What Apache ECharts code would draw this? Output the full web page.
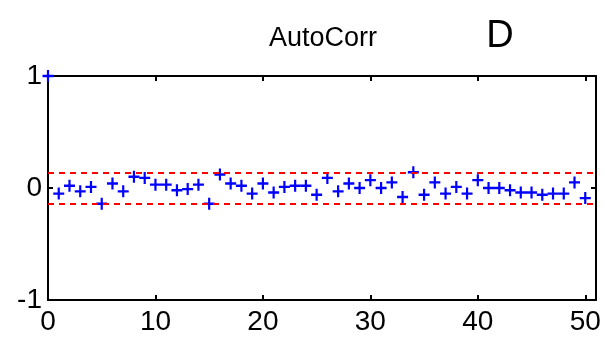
<!DOCTYPE html>
<html>
<head>
<meta charset="utf-8">
<script src="https://cdn.jsdelivr.net/npm/echarts@6/dist/echarts.min.js"></script>
<style>
  html, body { margin: 0; padding: 0; background: #fff; }
  #chart { width: 605px; height: 342px; }
</style>
</head>
<body>
<div id="chart"></div>
<script>
(function(){
  // lag index 0..50
  const lags = [];
  for (let i = 0; i <= 50; i++) lags.push(i);

  // autocorrelation at each lag
  const acf = [
    1.00, -0.05, 0.02, -0.03, 0.01, -0.14, 0.04, -0.03, 0.10, 0.09,
    0.03, 0.03, -0.02, -0.01, 0.03, -0.14, 0.12, 0.04, 0.02, -0.05,
    0.04, -0.04, 0.01, 0.02, 0.02, -0.06, 0.09, -0.03, 0.04, 0.00,
    0.07, 0.00, 0.05, -0.08, 0.14, -0.06, 0.05, -0.05, 0.01, -0.05,
    0.07, 0.00, 0.00, -0.02, -0.04, -0.04, -0.06, -0.05, -0.05, 0.05,
    -0.09
  ];

  // confidence bounds (red dashed)
  const bounds = [0.14, -0.14];

  const xTicks = [0, 10, 20, 30, 40, 50];
  const yTicks = [-1, 0, 1];

  const font = '"Liberation Sans Narrow", "Liberation Sans", Arial, sans-serif';
  const plus = 'path://M4,0H6V4H10V6H6V10H4V6H0V4H4Z';

  const frameAxis = {
    axisLine: { onZero: false, lineStyle: { color: '#000', width: 2 } },
    axisTick: { inside: true, length: 5, lineStyle: { color: '#000', width: 2 } },
    splitLine: { show: false }
  };

  const chart = echarts.init(document.getElementById('chart'), null, { renderer: 'canvas' });

  chart.setOption({
    animation: false,
    title: [
      {
        text: 'AutoCorr', left: 318, top: 20, textAlign: 'center',
        textStyle: { fontFamily: font, fontWeight: 'normal', fontSize: 27, color: '#000' }
      },
      {
        text: 'D', left: 495, top: 13, textAlign: 'center',
        textStyle: { fontFamily: '"Liberation Sans", Arial, sans-serif', fontWeight: 'normal', fontSize: 38, color: '#000' }
      }
    ],
    grid: { left: 48, right: 9, top: 76, bottom: 42, containLabel: false },
    xAxis: [
      Object.assign({}, frameAxis, {
        type: 'value', position: 'bottom', min: 0, max: 51,
        axisTick: Object.assign({}, frameAxis.axisTick, { customValues: xTicks }),
        axisLabel: { customValues: xTicks, margin: 8, color: '#000', fontFamily: font, fontSize: 28 }
      }),
      Object.assign({}, frameAxis, {
        type: 'value', position: 'top', min: 0, max: 51,
        axisTick: Object.assign({}, frameAxis.axisTick, { customValues: xTicks }),
        axisLabel: { show: false }
      })
    ],
    yAxis: [
      Object.assign({}, frameAxis, {
        type: 'value', position: 'left', min: -1, max: 1,
        axisTick: Object.assign({}, frameAxis.axisTick, { customValues: yTicks }),
        axisLabel: { customValues: yTicks, margin: 6, color: '#000', fontFamily: font, fontSize: 28 }
      }),
      Object.assign({}, frameAxis, {
        type: 'value', position: 'right', min: -1, max: 1,
        axisTick: Object.assign({}, frameAxis.axisTick, { customValues: yTicks }),
        axisLabel: { show: false }
      })
    ],
    series: [
      {
        type: 'scatter',
        data: lags.map((x, i) => [x, acf[i]]),
        symbol: plus,
        symbolSize: [11, 12],
        clip: false,
        itemStyle: { color: '#0000ff', opacity: 1 },
        z: 3
      },
      {
        type: 'line',
        data: [],
        silent: true,
        markLine: {
          symbol: 'none',
          silent: true,
          label: { show: false },
          lineStyle: { color: '#ff0000', type: [6, 5], width: 2 },
          data: bounds.map(v => ({ yAxis: v }))
        },
        z: 2
      }
    ]
  });

  window.addEventListener('resize', () => chart.resize());
})();
</script>
</body>
</html>
